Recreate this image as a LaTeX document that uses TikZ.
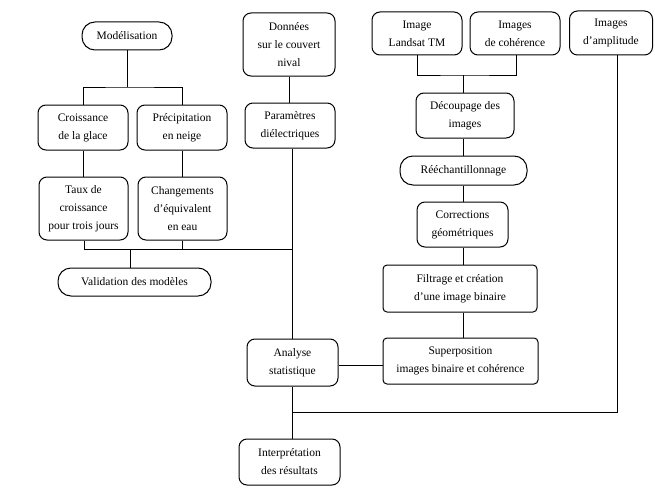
\documentclass[tikz,border=0pt]{standalone}
\usepackage{fontspec}
\setmainfont{Liberation Serif}
\begin{document}
\begin{tikzpicture}[x=1pt,y=-1pt,line width=1pt,
  box/.style={draw,rounded corners=8pt,align=center,inner sep=0pt,
    font=\fontsize{11.5}{18}\selectfont},
  pill/.style={box,rounded corners=13pt},
  sq/.style={box,rounded corners=4pt}]
\useasboundingbox (0,0) rectangle (655,487);
% nodes
\node[pill,minimum width=90pt,minimum height=28pt] (mod) at (127,36) {Modélisation};
\node[box,minimum width=92pt,minimum height=63pt] (don) at (289,44.5) {Données\\sur le couvert\\nival};
\node[box,minimum width=90pt,minimum height=43pt] (lan) at (417,33.5) {Image\\Landsat TM};
\node[box,minimum width=90pt,minimum height=43pt] (coh) at (515,33.5) {Images\\de cohérence};
\node[box,minimum width=83pt,minimum height=44pt] (amp) at (611,33) {Images\\d'amplitude};
\node[box,minimum width=90pt,minimum height=45pt] (cro) at (83,127.5) {Croissance\\de la glace};
\node[box,minimum width=90pt,minimum height=45pt] (pre) at (182,127.5) {Précipitation\\en neige};
\node[box,minimum width=90pt,minimum height=45pt] (par) at (290,125.5) {Paramètres\\diélectriques};
\node[box,minimum width=89pt,minimum height=63pt] (tau) at (83.5,208.5) {Taux de\\croissance\\pour trois jours};
\node[box,minimum width=89pt,minimum height=63pt] (cha) at (182.5,208.5) {Changements\\d'équivalent\\en eau};
\node[pill,minimum width=153pt,minimum height=28pt] (val) at (134.5,282) {Validation des modèles};
\node[box,minimum width=98pt,minimum height=45pt] (dec) at (465,115.5) {Découpage des\\images};
\node[pill,minimum width=127pt,minimum height=29pt] (ree) at (463.5,170.5) {Rééchantillonnage};
\node[box,minimum width=91pt,minimum height=45pt] (cor) at (462.5,224.5) {Corrections\\géométriques};
\node[sq,minimum width=154pt,minimum height=47pt] (fil) at (460,288.5) {Filtrage et création\\d'une image binaire};
\node[sq,minimum width=155pt,minimum height=46pt] (sup) at (460.5,361) {Superposition\\images binaire et cohérence};
\node[box,minimum width=91pt,minimum height=47pt] (ana) at (292.5,362.5) {Analyse\\statistique};
\node[box,minimum width=101pt,minimum height=46pt] (int) at (289.5,462) {Interprétation\\des résultats};
% junctions
\coordinate (j1) at (127,87);
\coordinate (j2) at (130,249);
\coordinate (j3) at (463,75);
\coordinate (j4) at (292,412);
% connectors
\draw (mod.south) -- (j1);
\draw (cro.north) |- (j1) -| (pre.north);
\draw (cro.south) -- (cro.south |- tau.north);
\draw (pre.south) -- (pre.south |- cha.north);
\draw (don.south) -- (don.south |- par.north);
\draw ([xshift=2pt]par.south) -- ([xshift=2pt]par.south |- ana.north);
\draw ([xshift=1pt]tau.south) |- ([xshift=2pt]par.south |- j2);
\draw (cha.south) -- (cha.south |- j2);
\draw (j2) -- (j2 |- val.north);
\draw (lan.south) |- (j3) -| ([xshift=1pt]coh.south);
\draw (j3) -- (j3 |- dec.north);
\draw (j3 |- dec.south) -- (j3 |- ree.north);
\draw (j3 |- ree.south) -- (j3 |- cor.north);
\draw (j3 |- cor.south) -- (j3 |- fil.north);
\draw (j3 |- fil.south) -- (j3 |- sup.north);
\draw ([yshift=-4pt]sup.west) -- ([yshift=-4pt]sup.west -| ana.east);
\draw ([xshift=6pt]amp.south) |- (j4);
\draw (j4 |- ana.south) -- (j4 |- int.north);
\end{tikzpicture}
\end{document}
